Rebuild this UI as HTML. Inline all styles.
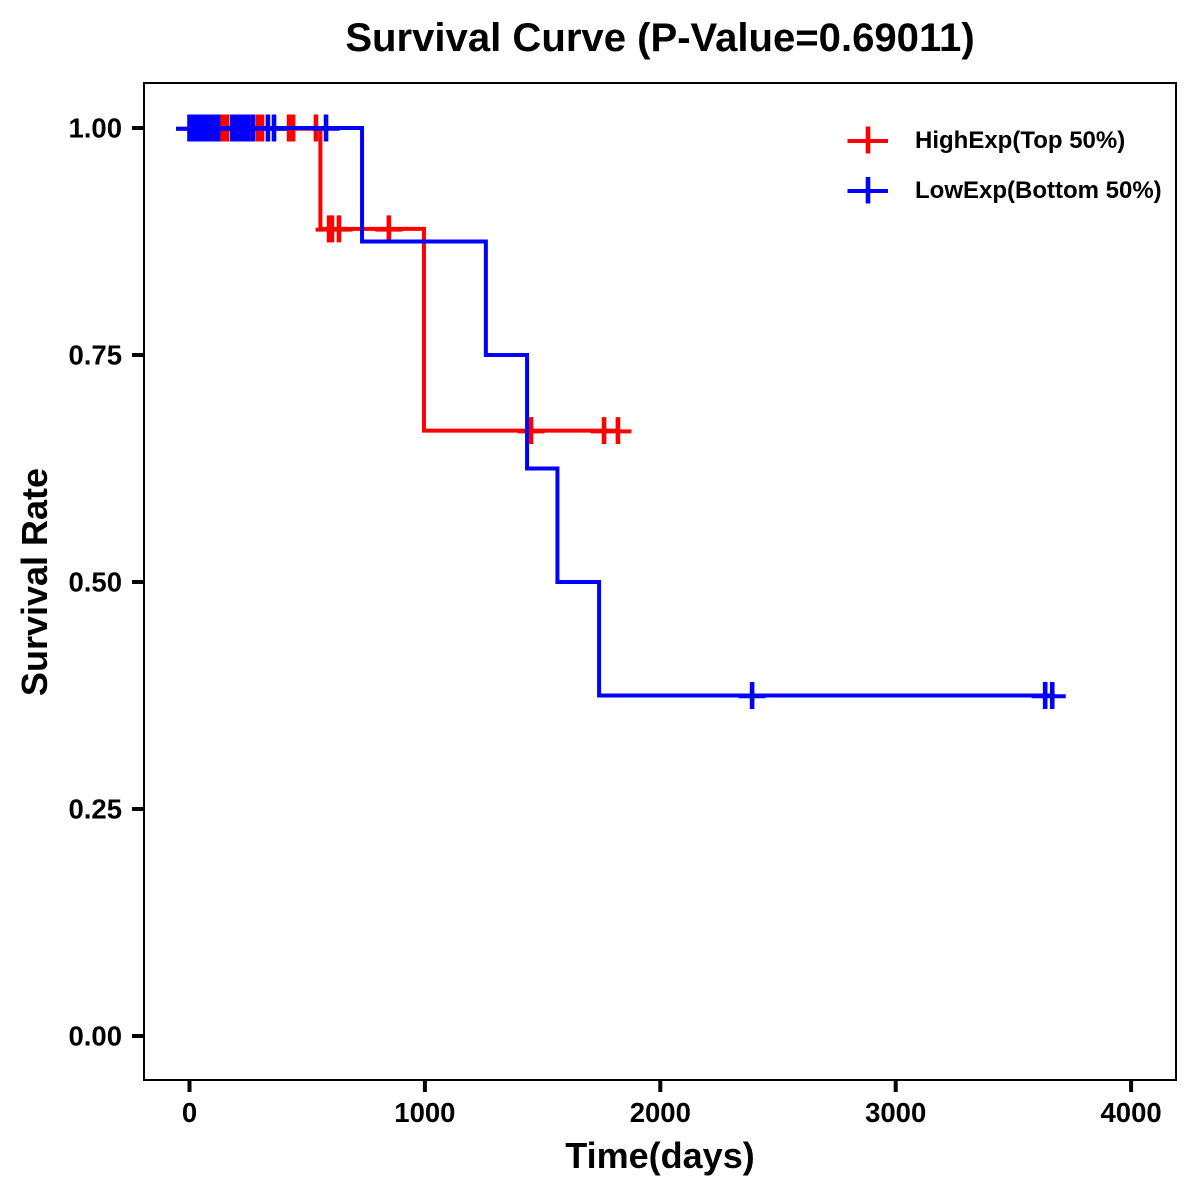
<!DOCTYPE html>
<html lang="en">
<head>
<meta charset="utf-8">
<title>Survival Curve</title>
<style>
html,body{margin:0;padding:0;background:#fff;width:1200px;height:1200px;overflow:hidden}
svg{display:block}
text{font-family:"Liberation Sans",Arial,sans-serif;font-weight:bold;fill:#000}
</style>
</head>
<body>
<svg id="chart" xmlns="http://www.w3.org/2000/svg" width="1200" height="1200" viewBox="0 0 1200 1200">
  <rect x="0" y="0" width="1200" height="1200" fill="#fff"/>
  <rect x="144" y="83" width="1032" height="997" fill="none" stroke="#000" stroke-width="2"/>
  <text x="660" y="51" text-anchor="middle" font-size="40.1">Survival Curve (P-Value=0.69011)</text>
  <text x="660" y="1168" text-anchor="middle" font-size="36">Time(days)</text>
  <text transform="translate(47,582) rotate(-90)" text-anchor="middle" font-size="36">Survival Rate</text>
  <g id="x-axis"></g>
  <g id="y-axis"></g>
  <g id="series"></g>
  <g id="legend">
    <g>
      <path d="M847.5 141H888" stroke="#f00" stroke-width="4" fill="none"/>
      <path d="M868 126.5V153.5" stroke="#f00" stroke-width="4.6" fill="none"/>
      <text x="915" y="148" font-size="24">HighExp(Top 50%)</text>
    </g>
    <g>
      <path d="M847.5 191H888" stroke="#00f" stroke-width="4" fill="none"/>
      <path d="M868 177V203.5" stroke="#00f" stroke-width="4.6" fill="none"/>
      <text x="915" y="198" font-size="24">LowExp(Bottom 50%)</text>
    </g>
  </g>
</svg>
<script>
const xTickValues = [0, 1000, 2000, 3000, 4000];
const yTickValues = [0, 0.25, 0.5, 0.75, 1];
const yTickLabels = ['0.00', '0.25', '0.50', '0.75', '1.00'];

const highStepTimes = [0, 556, 996, 1820];
const highStepSurvival = [1, 0.8889, 0.6667, 0.6667];
const highCensorTimes = [2, 23, 45, 70, 104, 138, 149, 159, 189, 215, 240, 266, 291, 300, 308, 423, 432, 440, 537];
const highCensorSurvival = [1, 1, 1, 1, 1, 1, 1, 1, 1, 1, 1, 1, 1, 1, 1, 1, 1, 1, 1];
const highLateCensorTimes = [593, 605, 635, 847, 1451, 1761, 1820];
const highLateCensorSurvival = [0.8889, 0.8889, 0.8889, 0.8889, 0.6667, 0.6667, 0.6667];

const lowStepTimes = [0, 733, 1259, 1434, 1563, 1740, 3665];
const lowStepSurvival = [1, 0.875, 0.75, 0.625, 0.5, 0.375, 0.375];
const lowCensorTimes = [0, 8, 15, 24, 32, 41, 49, 58, 66, 76, 87, 104, 112, 121, 181, 190, 198, 207, 215, 224, 232, 241, 249, 270, 333, 359, 580];
const lowCensorSurvival = [1, 1, 1, 1, 1, 1, 1, 1, 1, 1, 1, 1, 1, 1, 1, 1, 1, 1, 1, 1, 1, 1, 1, 1, 1, 1, 1];
const lowLateCensorTimes = [2390, 3635, 3665];
const lowLateCensorSurvival = [0.375, 0.375, 0.375];

const NS = 'http://www.w3.org/2000/svg';
function xScale(t) { return 189.5 + t * 0.2354; }
function yScale(s) { return 1036 - s * 908; }
function make(tag, attrs, parent) {
  const el = document.createElementNS(NS, tag);
  for (const k in attrs) el.setAttribute(k, attrs[k]);
  parent.appendChild(el);
  return el;
}

const xAxis = document.getElementById('x-axis');
xTickValues.forEach(function (v) {
  const tick = make('line', { x1: xScale(v), x2: xScale(v), y1: 1080, y2: 1092, stroke: '#000', 'stroke-width': 4 }, xAxis);
  
  
  const label = make('text', { x: xScale(v), y: 1122, 'text-anchor': 'middle', 'font-size': 27.5 }, xAxis);
  label.textContent = String(v);
  
  
});

const yAxis = document.getElementById('y-axis');
yTickValues.forEach(function (v, i) {
  const tick = make('line', { x1: 132, x2: 144, y1: yScale(v), y2: yScale(v), stroke: '#000', 'stroke-width': 4 }, yAxis);
  
  
  const label = make('text', { x: 122, y: yScale(v) + 9.5, 'text-anchor': 'end', 'font-size': 27.5 }, yAxis);
  label.textContent = yTickLabels[i];
  
  
});

const seriesLayer = document.getElementById('series');
function stepPath(times, survival) {
  let d = 'M' + xScale(times[0]) + ' ' + yScale(survival[0]);
  for (let i = 1; i < times.length; i++) {
    d += 'H' + xScale(times[i]) + 'V' + yScale(survival[i]);
  }
  return d;
}
function censorHorizontal(times, survival) {
  let d = '';
  times.forEach(function (t, i) {
    const x = xScale(t), y = yScale(survival[i]);
    d += 'M' + (x - 13.5) + ' ' + (y + 0.7) + 'H' + (x + 13.5);
  });
  return d;
}
function censorVertical(times, survival) {
  let d = '';
  times.forEach(function (t, i) {
    const x = xScale(t), y = yScale(survival[i]);
    d += 'M' + x + ' ' + (y - 13.5) + 'V' + (y + 13.5);
  });
  return d;
}
function drawSeries(name, color, stepT, stepS, censorT, censorS) {
  const group = make('g', {}, seriesLayer);
  
  
  const curve = make('path', { d: stepPath(stepT, stepS), fill: 'none', stroke: color, 'stroke-width': 4, 'stroke-linejoin': 'miter' }, group);
  
  
  const barsH = make('path', { d: censorHorizontal(censorT, censorS), fill: 'none', stroke: color, 'stroke-width': 4 }, group);
  
  
  const barsV = make('path', { d: censorVertical(censorT, censorS), fill: 'none', stroke: color, 'stroke-width': 4.6 }, group);
  
  
}
drawSeries('high-exp', '#f00', highStepTimes, highStepSurvival,
  highCensorTimes.concat(highLateCensorTimes), highCensorSurvival.concat(highLateCensorSurvival));
drawSeries('low-exp', '#00f', lowStepTimes, lowStepSurvival,
  lowCensorTimes.concat(lowLateCensorTimes), lowCensorSurvival.concat(lowLateCensorSurvival));
</script>
</body>
</html>
